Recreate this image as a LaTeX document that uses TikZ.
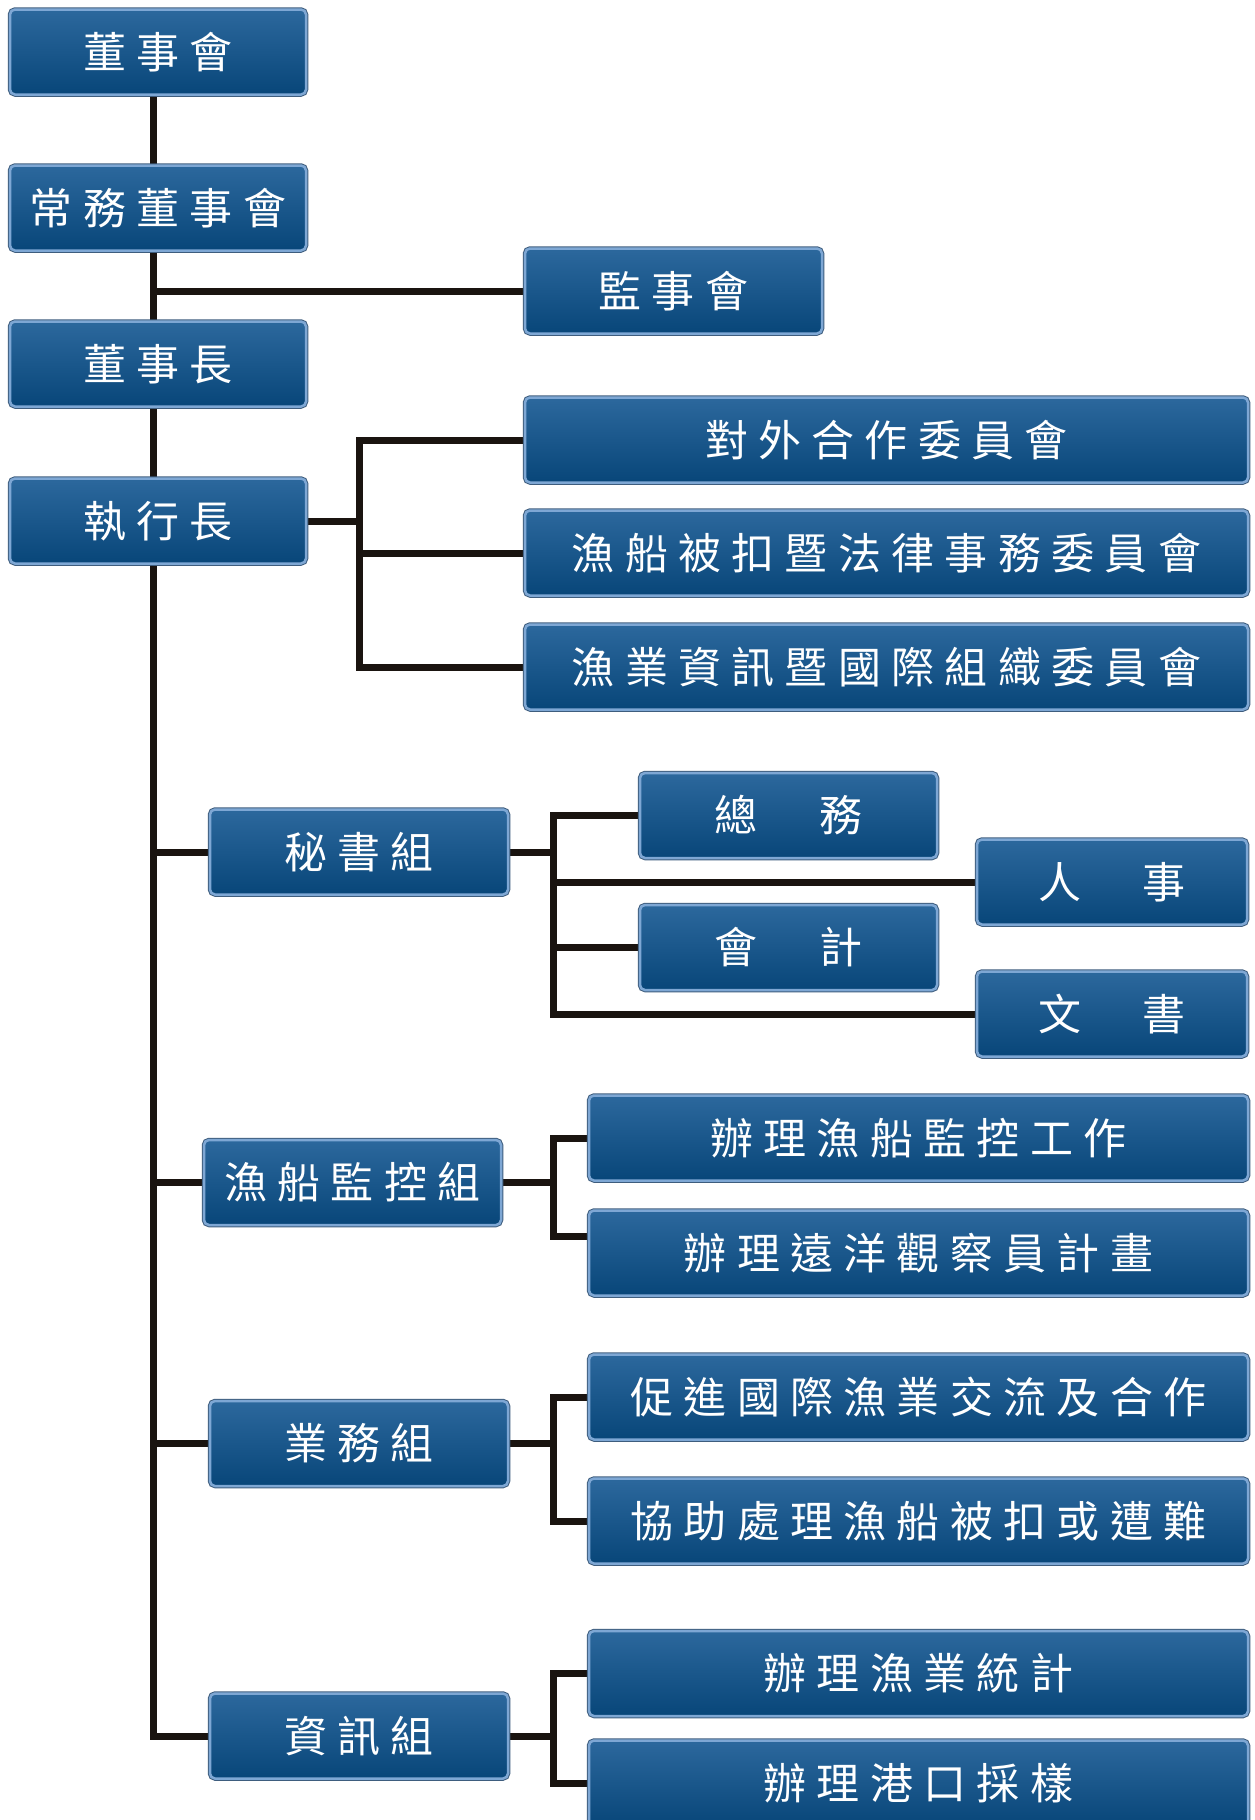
\documentclass[tikz,border=0pt]{standalone}
\usepackage{fontspec}
\newfontfamily\cjk[LetterSpace=24]{Noto Sans CJK TC}
\usetikzlibrary{backgrounds}
\definecolor{boxtop}{HTML}{2C689D}
\definecolor{boxbot}{HTML}{084679}
\definecolor{boxedge}{HTML}{7EA7D4}
\definecolor{boxout}{HTML}{3E5D7E}
\definecolor{linecol}{HTML}{1A1410}
\begin{document}
\begin{tikzpicture}[x=1pt,y=-1pt,
  orgbox/.style={rounded corners=5pt, draw=boxedge, line width=2.5pt,
    top color=boxtop, bottom color=boxbot,
    preaction={draw=boxout, line width=4.5pt},
    text=white, font=\cjk\fontsize{43}{43}\selectfont, inner sep=0pt,
    minimum height=85pt},
  conn/.style={draw=linecol, line width=7pt}]
\useasboundingbox (0,0) rectangle (1254,1820);
\clip (0,0) rectangle (1254,1820);

% top column
\node[orgbox, minimum width=296pt] (ds) at (158,52) {董事會};
\node[orgbox, minimum width=296pt] (cw) at (158,208) {常務董事會};
\node[orgbox, minimum width=296pt] (dz) at (158,364) {董事長};
\node[orgbox, minimum width=296pt] (zx) at (158,521) {執行長};
\node[orgbox, minimum width=297pt] (js) at (673.5,291) {監事會};

% committees
\node[orgbox, minimum width=723pt] (c1) at (886.5,440) {對外合作委員會};
\node[orgbox, minimum width=723pt] (c2) at (886.5,553) {漁船被扣暨法律事務委員會};
\node[orgbox, minimum width=723pt] (c3) at (886.5,667) {漁業資訊暨國際組織委員會};

% secretariat
\node[orgbox, minimum width=298pt] (ms) at (359,852) {秘書組};
\node[orgbox, minimum width=297pt] (zw) at (788.5,815.5) {總\hspace{62pt}務};
\node[orgbox, minimum width=270pt] (rs) at (1112,882) {人\hspace{62pt}事};
\node[orgbox, minimum width=297pt] (kj) at (788.5,947.5) {會\hspace{62pt}計};
\node[orgbox, minimum width=270pt] (ws) at (1112,1014) {文\hspace{62pt}書};

% vessel monitoring
\node[orgbox, minimum width=297pt] (yc) at (352.5,1182.5) {漁船監控組};
\node[orgbox, minimum width=659pt] (y1) at (918.5,1138) {辦理漁船監控工作};
\node[orgbox, minimum width=659pt] (y2) at (918.5,1253) {辦理遠洋觀察員計畫};

% operations
\node[orgbox, minimum width=298pt] (yw) at (359,1443.5) {業務組};
\node[orgbox, minimum width=659pt] (b1) at (918.5,1397) {促進國際漁業交流及合作};
\node[orgbox, minimum width=659pt] (b2) at (918.5,1521) {協助處理漁船被扣或遭難};

% information
\node[orgbox, minimum width=298pt] (zxz) at (359,1736) {資訊組};
\node[orgbox, minimum width=659pt] (i1) at (918.5,1673.5) {辦理漁業統計};
\node[orgbox, minimum width=659pt] (i2) at (918.5,1783) {辦理港口採樣};

\coordinate (trunk) at (153,0);
\coordinate (cv) at (359,0);
\coordinate (sv) at (553,0);
\coordinate (y2c) at ([yshift=17pt]y2.west);

\begin{scope}[on background layer]
\fill[white] (0,0) rectangle (1254,1820);
\draw[conn] (ds.south -| trunk) -- (trunk |- zxz.west) -- (zxz.west);
\draw[conn] (trunk |- js.west) -- (js.west);
\draw[conn] (trunk |- ms.west) -- (ms.west);
\draw[conn] (trunk |- yc.west) -- (yc.west);
\draw[conn] (trunk |- yw.west) -- (yw.west);
% committees
\draw[conn] (zx.east) -- (cv |- zx.east);
\draw[conn] (c1.west) -- (cv |- c1.west) -- (cv |- c3.west) -- (c3.west);
\draw[conn] (cv |- c2.west) -- (c2.west);
% secretariat
\draw[conn] (ms.east) -- (sv |- ms.east);
\draw[conn] (zw.west) -- (sv |- zw.west) -- (sv |- ws.west) -- (ws.west);
\draw[conn] (sv |- rs.west) -- (rs.west);
\draw[conn] (sv |- kj.west) -- (kj.west);
% vessel monitoring
\draw[conn] (yc.east) -- (sv |- yc.east);
\draw[conn] (y1.west) -- (sv |- y1.west) -- (sv |- y2c) -- (y2c);
% operations
\draw[conn] (yw.east) -- (sv |- yw.east);
\draw[conn] (b1.west) -- (sv |- b1.west) -- (sv |- b2.west) -- (b2.west);
% information
\draw[conn] (zxz.east) -- (sv |- zxz.east);
\draw[conn] (i1.west) -- (sv |- i1.west) -- (sv |- i2.west) -- (i2.west);
\end{scope}
\end{tikzpicture}
\end{document}
